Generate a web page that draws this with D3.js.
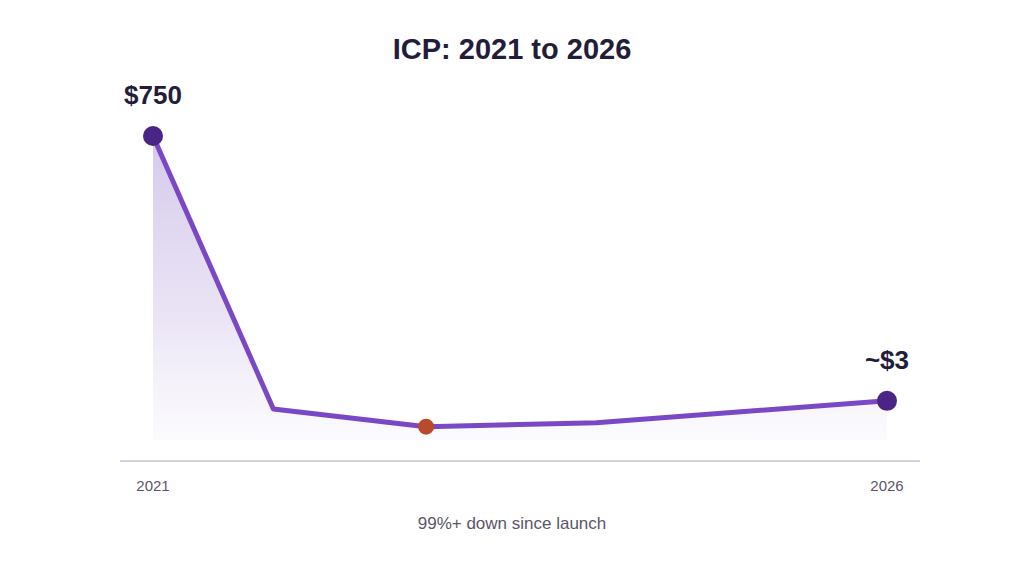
<!DOCTYPE html>
<html>
<head>
<meta charset="utf-8">
<script src="https://cdn.jsdelivr.net/npm/d3@7"></script>
<style>
  body { margin: 0; background: #fff; }
  svg { font-family: "Liberation Sans", Arial, sans-serif; }
</style>
</head>
<body>
<div id="chart"></div>
<script>
/* data */
const years = [2021, 2021.82, 2022.86, 2024.02, 2026];
const prices = [750, 2.4, 1.4, 1.6, 3];
const tickYears = [2021, 2026];
const tickLabels = ['2021', '2026'];
const endLabels = ['$750', '~$3'];

const W = 1024;
const H = 576;

const svg = d3.select('#chart')
  .append('svg')
  .attr('width', W)
  .attr('height', H);

/* x and y scales */
const x = d3.scaleLinear()
  .domain([2021, 2026])
  .range([153, 887]);
const y = d3.scaleSymlog()
  .constant(1)
  .domain([0, 750])
  .range([471, 136]);
const areaBase = 440;
const axisY = 461;

const pts = years.map(function (d, i) { return { year: d, price: prices[i] }; });

/* gradient under the line */
const grad = svg.append('defs')
  .append('linearGradient')
  .attr('id', 'fade')
  .attr('x1', 0).attr('y1', 0).attr('x2', 0).attr('y2', 1)
  .attr('gradientUnits', 'userSpaceOnUse')
  .attr('y1', y(750)).attr('y2', areaBase);
grad.append('stop').attr('offset', '0%').attr('stop-color', '#cdbfe6').attr('stop-opacity', 0.85);
grad.append('stop').attr('offset', '60%').attr('stop-color', '#dcd2ef').attr('stop-opacity', 0.6);
grad.append('stop').attr('offset', '100%').attr('stop-color', '#ece7f6').attr('stop-opacity', 0.2);

svg.append('text')
  .attr('x', W / 2)
  .attr('y', 59)
  .attr('text-anchor', 'middle')
  .style('font-size', '29px')
  .style('font-weight', 'bold')
  .style('fill', '#231d3a')
  .text('ICP: 2021 to 2026');

const area = d3.area()
  .x(function (d) { return x(d.year); })
  .y0(areaBase)
  .y1(function (d) { return y(d.price); });
svg.append('path')
  .datum(pts)
  .attr('d', area)
  .attr('fill', 'url(#fade)');

/* baseline */
svg.append('line')
  .attr('x1', 120).attr('x2', 920)
  .attr('y1', axisY).attr('y2', axisY)
  .attr('stroke', '#c6bfdc')
  .attr('stroke-width', 1.5);

const line = d3.line()
  .x(function (d) { return x(d.year); })
  .y(function (d) { return y(d.price); });
svg.append('path')
  .datum(pts)
  .attr('d', line)
  .attr('fill', 'none')
  .attr('stroke', '#7a48c4')
  .attr('stroke-width', 5)
  .attr('stroke-linejoin', 'round');

/* end points and the low point */
const ends = [pts[0], pts[pts.length - 1]];
svg.selectAll('.endDot')
  .data(ends)
  .enter()
  .append('circle')
  .attr('cx', function (d) { return x(d.year); })
  .attr('cy', function (d) { return y(d.price); })
  .attr('r', 10)
  .attr('fill', '#4a2585');

const low = pts[d3.minIndex(prices)];
svg.append('circle')
  .attr('cx', x(low.year))
  .attr('cy', y(low.price))
  .attr('r', 8)
  .attr('fill', '#b94a2c');

svg.selectAll('.endLabel')
  .data(ends)
  .enter()
  .append('text')
  .attr('x', function (d) { return x(d.year); })
  .attr('y', function (d) { return y(d.price) - 32; })
  .attr('text-anchor', 'middle')
  .style('font-size', '26px')
  .style('font-weight', 'bold')
  .style('fill', '#231d3a')
  .text(function (d, i) { return endLabels[i]; });

svg.selectAll('.tick')
  .data(tickYears)
  .enter()
  .append('text')
  .attr('x', function (d) { return x(d); })
  .attr('y', 491)
  .attr('text-anchor', 'middle')
  .style('font-size', '15px')
  .style('fill', '#5b5668')
  .text(function (d, i) { return tickLabels[i]; });

svg.append('text')
  .attr('x', W / 2)
  .attr('y', 529)
  .attr('text-anchor', 'middle')
  .style('font-size', '17px')
  .style('fill', '#5b5668')
  .text('99%+ down since launch');
</script>
</body>
</html>
